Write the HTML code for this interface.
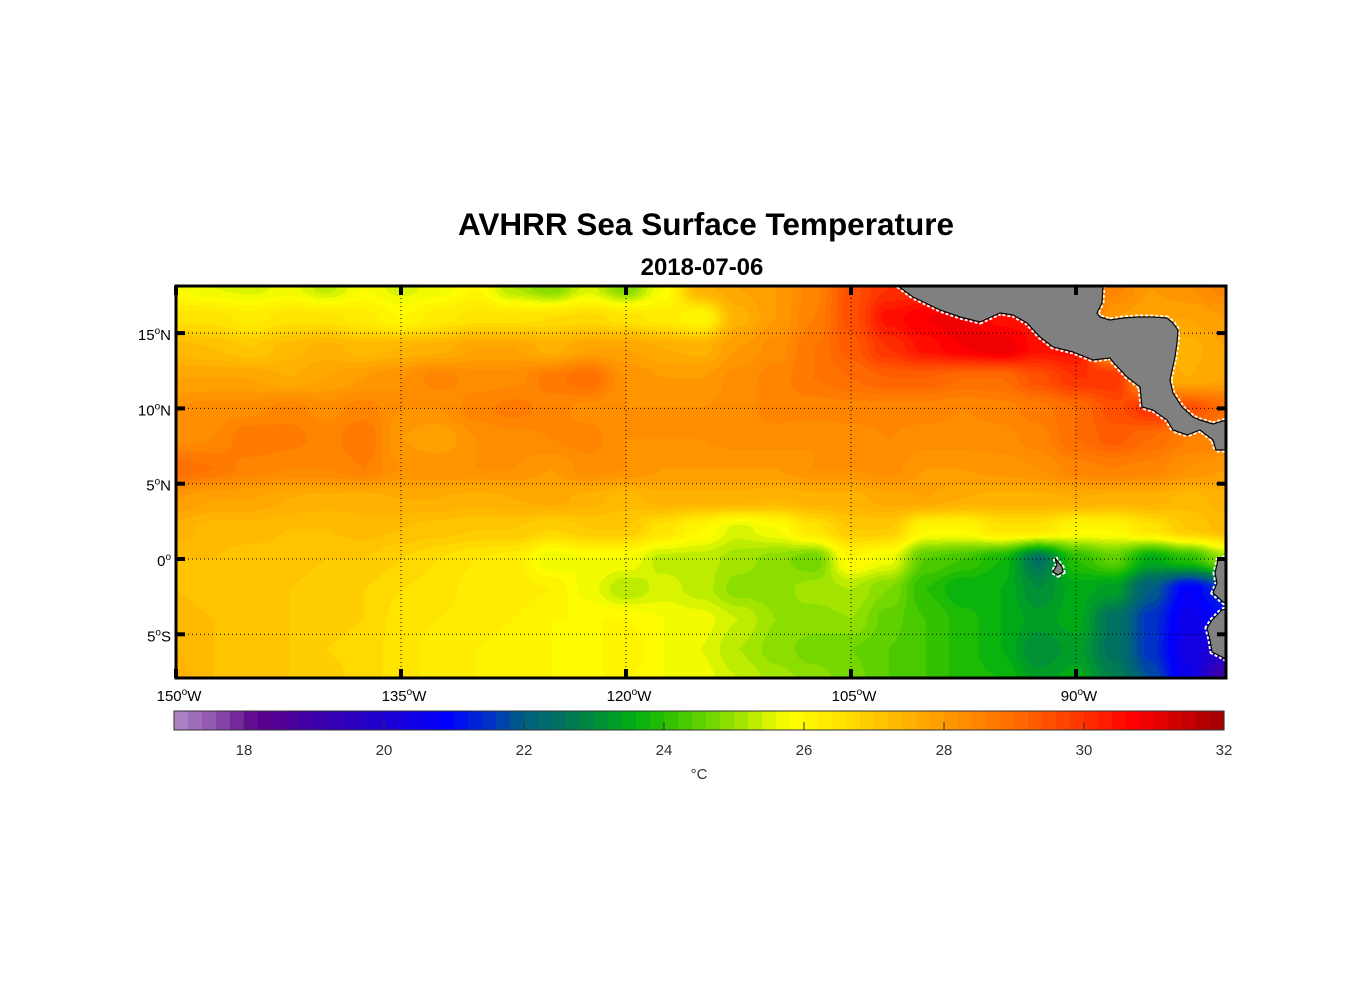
<!DOCTYPE html>
<html><head><meta charset="utf-8"><style>
html,body{margin:0;padding:0;background:#fff;}
#wrap{position:relative;width:1356px;height:1000px;overflow:hidden;font-family:"Liberation Sans",Arial,sans-serif;}
#heat{position:absolute;left:0;top:0;}
#over{position:absolute;left:0;top:0;}
</style></head><body>
<div id="wrap">
<canvas id="heat" width="1356" height="1000"></canvas>
<svg id="over" width="1356" height="1000" xmlns="http://www.w3.org/2000/svg">
<text x="706" y="235" text-anchor="middle" font-size="31.5" font-weight="bold" fill="#000">AVHRR Sea Surface Temperature</text>
<text x="702" y="275" text-anchor="middle" font-size="24" font-weight="bold" fill="#000">2018-07-06</text>
<g id="grid"></g>
<defs><clipPath id="mapclip"><rect x="176" y="286" width="1050" height="392"/></clipPath></defs>
<g clip-path="url(#mapclip)">
  <g fill="none" stroke="#fff" stroke-width="5" stroke-dasharray="3 2">
    <polygon points="898,286 913,297 940,310 960,317 980,322 1000,313 1013,315 1027,323 1040,337 1053,347 1073,352 1093,360 1110,358 1113,362 1127,377 1140,387 1142,407 1153,410 1167,420 1173,430 1187,435 1200,430 1213,440 1216,450 1226,450 1226,420 1213,424 1200,420 1193,417 1182,407 1173,393 1170,380 1175,357 1177,343 1178,330 1173,323 1167,318 1153,317 1137,317 1123,318 1110,320 1100,317 1097,313 1102,303 1103,285"/>
    <polygon points="1230,556 1218,560 1215,573 1217,583 1213,593 1223,602 1230,606"/>
    <polygon points="1230,608 1222,610 1212,620 1207,628 1210,640 1212,652 1222,657 1230,662"/>
    <polygon points="1055,558 1062,567 1063,572 1058,575 1053,572 1057,565"/>
  </g>
  <g fill="#808080" stroke="#000" stroke-width="1.2">
    <polygon points="898,286 913,297 940,310 960,317 980,322 1000,313 1013,315 1027,323 1040,337 1053,347 1073,352 1093,360 1110,358 1113,362 1127,377 1140,387 1142,407 1153,410 1167,420 1173,430 1187,435 1200,430 1213,440 1216,450 1226,450 1226,420 1213,424 1200,420 1193,417 1182,407 1173,393 1170,380 1175,357 1177,343 1178,330 1173,323 1167,318 1153,317 1137,317 1123,318 1110,320 1100,317 1097,313 1102,303 1103,285"/>
    <polygon points="1230,556 1218,560 1215,573 1217,583 1213,593 1223,602 1230,606"/>
    <polygon points="1230,608 1222,610 1212,620 1207,628 1210,640 1212,652 1222,657 1230,662"/>
    <polygon points="1055,558 1062,567 1063,572 1058,575 1053,572 1057,565"/>
  </g>
</g>
<rect x="176" y="286" width="1050" height="392" fill="none" stroke="#000" stroke-width="3"/>
<g id="ticks"></g>
<g id="cbar"></g>
<text x="699" y="779" text-anchor="middle" font-size="15" fill="#333">°C</text>
</svg>
</div>
<script>
// ---- data ----
const lons = [-150,-147.5,-145,-142.5,-140,-137.5,-135,-132.5,-130,-127.5,-125,-122.5,-120,-117.5,-115,-112.5,-110,-107.5,-105,-102.5,-100,-97.5,-95,-92.5,-90,-87.5,-85,-82.5,-80];
const lats = [18,16,14,12,10,8,6,4,2,0,-2,-4,-6,-8];
const sst18 = [25.8,25.6,25.5,25.7,25.3,25.8,25.5,25.7,26,25.2,24.8,25.5,24.8,25.8,27.5,27.8,28,28.5,29.5,30,30,30,30,30,30,28.5,28,28.2,28.5];
const sst16 = [26.5,26.5,26.3,26.5,26.5,26.3,26,26.3,26.5,26.5,26.6,26.7,26.5,26.3,26,27.5,28,28.6,29.5,30.5,30.8,31,30.5,30.5,30,28,27.8,27.8,28];
const sst14 = [27.3,27.2,27,27.3,27.5,27.3,27.4,27.5,27.8,27.8,27.5,27.8,27.8,27.6,27.5,28,28.3,28.8,29.3,30,30.5,30.8,31,30.5,30.5,28,27.6,27.5,27.8];
const sst12 = [27.8,27.8,27.8,27.6,27.8,28,28.2,28.5,28.3,28.3,28.7,29,28.2,28,28,28.3,28.5,28.8,29,29.2,29.2,29,29,29.5,30,30,27.8,27.6,27.8];
const sst10 = [28.2,28.3,28.3,28.5,28.3,28.5,28.2,28.2,28.5,28.7,28.5,28.3,28.2,28.2,28.2,28.3,28.5,28.5,28.5,28.5,28.5,28.4,28.5,28.7,29,29.5,30,29.5,29];
const sst8  = [28.3,28.4,28.8,28.7,28.5,28.8,28,27.8,28.2,28.3,28.4,28.5,28.2,28.2,28.2,28.3,28.3,28.2,28.3,28.4,28.3,28.3,28.3,28.5,29,29.3,29,28.6,28.5];
const sst6  = [29,28.8,28.5,28.4,28.4,28.6,28.2,28.2,28.2,28.2,28,28.3,28.2,28,28,28,28,28.2,28.2,28.3,28,28,28.1,28.2,28.5,28.6,28.5,28.2,28];
const sst4  = [28,27.8,27.8,27.6,27.5,27.5,27.6,27.6,27.5,27.6,27.7,27.5,27.3,27.5,27.5,27.5,27.4,27.5,27.5,27.7,27.8,27.6,27.5,27.5,27.6,27.5,27.5,27.3,27.5];
const sst2  = [27.5,27.3,27.3,27.2,27.2,27.3,27.2,27.1,27,27,26.8,27,27,26.5,26,25.5,25.8,26.5,27,27,26,26,26.5,26.5,26,26,26.5,27,27.3];
const sst0  = [27.2,27.2,27.1,27.1,27,27,26.8,26.6,26.4,26.3,25.6,25.8,25.8,25.3,25.3,25.1,24.9,24.6,26,25.7,24.4,24.2,23.8,22.5,24,24.5,23.5,24,25];
const sstS2 = [27.2,27.1,27.1,27,26.9,26.8,26.6,26.5,26.3,26.3,26.2,25.7,25.2,25.5,25.3,24.9,24.9,25.1,25.2,24.8,24,23.6,23.6,23,23.5,23.3,22,20.8,21.5];
const sstS4 = [27.3,27.2,27,27,26.9,26.8,26.5,26.4,26.3,26.2,26,26,26,25.8,25.7,25.4,25,24.9,25,24.5,24.2,23.9,23.6,23.3,23.5,22.5,21.5,20.5,21];
const sstS6 = [27.4,27.2,27,27,26.8,26.7,26.5,26.3,26.2,26.1,26,25.9,26.2,25.8,25.6,25.2,24.9,24.7,24.6,24.4,24.2,23.9,23.6,23,23.3,22.5,21.5,20.3,20];
const sstS8 = [27.5,27.2,27.1,27,26.9,26.7,26.5,26.3,26.2,26.1,26,26,26,25.8,25.7,25.4,25.1,24.9,24.7,24.4,24.2,23.9,23.8,23.3,23.5,22.8,21.8,20.5,18.8];
const sstRows = [sst18,sst16,sst14,sst12,sst10,sst8,sst6,sst4,sst2,sst0,sstS2,sstS4,sstS6,sstS8];
const lonTicks = [-150,-135,-120,-105,-90];
const lonLabels = ["150","135","120","105","90"];
const latTicks = [15,10,5,0,-5];
const latLabels = ["15","10","5","0","5"];
const latHemi = ["N","N","N","","S"];
const cbarTicks = [18,20,22,24,26,28,30,32];
const cmapVals = [17,17.6,18.2,18.6,19,20,20.9,21.5,22,22.5,23,23.6,24,25,25.8,26,26.5,27,28,29,30,30.7,32];
const cmapRGB = [[180,140,200],[140,80,170],[90,0,140],[80,0,150],[60,0,170],[30,0,210],[0,0,255],[0,50,200],[0,96,128],[0,112,96],[0,140,60],[0,176,16],[40,190,0],[150,225,0],[255,255,0],[255,248,0],[255,228,0],[255,200,0],[255,155,0],[255,110,0],[255,50,0],[255,0,0],[160,0,0]];

// ---- axes ----
const MX0=176, MX1=1226, MY0=286, MY1=678;
const xOf = lon => 176 + (lon+150)*15;
const yOf = lat => 559 - lat*15.06;
const cbX0=174, cbX1=1224, cbY0=711, cbY1=730, vMin=17, vMax=32;
const cbx = v => cbX0 + (v-vMin)/(vMax-vMin)*(cbX1-cbX0);

function color(v){
  v = Math.max(vMin, Math.min(vMax, v));
  v = vMin + Math.floor((v-vMin)/0.2+1e-6)*0.2 + 0.1;
  for(let i=0;i<cmapVals.length-1;i++){
    if(v<=cmapVals[i+1]){
      const t=(v-cmapVals[i])/(cmapVals[i+1]-cmapVals[i]);
      const a=cmapRGB[i], b=cmapRGB[i+1];
      return [a[0]+(b[0]-a[0])*t, a[1]+(b[1]-a[1])*t, a[2]+(b[2]-a[2])*t];
    }
  }
  return cmapRGB[cmapRGB.length-1];
}
function sample(lon, lat){
  let fi=(lon-lons[0])/(lons[1]-lons[0]);
  let fj=(lat-lats[0])/(lats[1]-lats[0]);
  fi=Math.max(0,Math.min(lons.length-1.0001,fi));
  fj=Math.max(0,Math.min(lats.length-1.0001,fj));
  const i=Math.floor(fi), j=Math.floor(fj), tx=fi-i, ty=fj-j;
  const sx=tx*tx*(3-2*tx), sy=ty*ty*(3-2*ty);
  const a=sstRows[j][i], b=sstRows[j][i+1], c=sstRows[j+1][i], d=sstRows[j+1][i+1];
  return (a*(1-sx)+b*sx)*(1-sy)+(c*(1-sx)+d*sx)*sy;
}
const cv=document.getElementById('heat'), ctx=cv.getContext('2d');
const W=MX1-MX0, H=MY1-MY0;
const img=ctx.createImageData(W,H);
for(let py=0;py<H;py++){
  const lat=(559-(MY0+py+0.5))/15.06;
  for(let px=0;px<W;px++){
    const lon=(MX0+px+0.5-176)/15-150;
    const c=color(sample(lon,lat));
    const k=(py*W+px)*4;
    img.data[k]=c[0];img.data[k+1]=c[1];img.data[k+2]=c[2];img.data[k+3]=255;
  }
}
ctx.putImageData(img,MX0,MY0);

const NS='http://www.w3.org/2000/svg';
function mk(tag,attrs,parent){const e=document.createElementNS(NS,tag);for(const k in attrs)e.setAttribute(k,attrs[k]);parent.appendChild(e);return e;}
const grid=document.getElementById('grid'), ticks=document.getElementById('ticks'), cbar=document.getElementById('cbar'), over=document.getElementById('over');
lonTicks.forEach((lon,i)=>{
  const x=xOf(lon);
  if(i>0){
    const g=mk('line',{x1:x,y1:MY0,x2:x,y2:MY1,stroke:'#000','stroke-width':1,'stroke-dasharray':'1 3'},grid);
    
    
  }
  const t1=mk('line',{x1:x,y1:MY0,x2:x,y2:MY0+9,stroke:'#000','stroke-width':4},ticks);
  
  
  const t2=mk('line',{x1:x,y1:MY1,x2:x,y2:MY1-9,stroke:'#000','stroke-width':4},ticks);
  
  
  const tx=mk('text',{x:x+3,y:701,'text-anchor':'middle','font-size':15,fill:'#000'},over);
  
  
  tx.innerHTML=lonLabels[i]+'<tspan dy="-6" font-size="10">o</tspan><tspan dy="6">W</tspan>';
});
latTicks.forEach((lat,i)=>{
  const y=yOf(lat);
  const g=mk('line',{x1:MX0,y1:y,x2:MX1,y2:y,stroke:'#000','stroke-width':1,'stroke-dasharray':'1 3'},grid);
  
  
  const t1=mk('line',{x1:MX0,y1:y,x2:MX0+9,y2:y,stroke:'#000','stroke-width':4},ticks);
  
  
  const t2=mk('line',{x1:MX1,y1:y,x2:MX1-9,y2:y,stroke:'#000','stroke-width':4},ticks);
  
  
  const tx=mk('text',{x:171,y:y+7,'text-anchor':'end','font-size':15,fill:'#000'},over);
  
  
  tx.innerHTML=latLabels[i]+'<tspan dy="-6" font-size="10">o</tspan><tspan dy="6">'+latHemi[i]+'</tspan>';
});
for(let v=vMin; v<vMax-1e-6; v+=0.2){
  const c=color(v+0.05);
  const r=mk('rect',{x:cbx(v),y:cbY0,width:cbx(v+0.2)-cbx(v)+0.6,height:cbY1-cbY0,fill:'rgb('+c.map(Math.round).join(',')+')'},cbar);
  
  
}
const cf=mk('rect',{x:cbX0,y:cbY0,width:cbX1-cbX0,height:cbY1-cbY0,fill:'none',stroke:'#333','stroke-width':1},cbar);


cbarTicks.forEach(v=>{
  const x=cbx(v);
  if(v<vMax){
    const t=mk('line',{x1:x,y1:cbY1,x2:x,y2:cbY1-8,stroke:'#333','stroke-width':1},cbar);
    
    
  }
  const l=mk('text',{x:x,y:755,'text-anchor':'middle','font-size':15,fill:'#333'},cbar);
  
  
  l.textContent=v;
});
</script>
</body></html>
